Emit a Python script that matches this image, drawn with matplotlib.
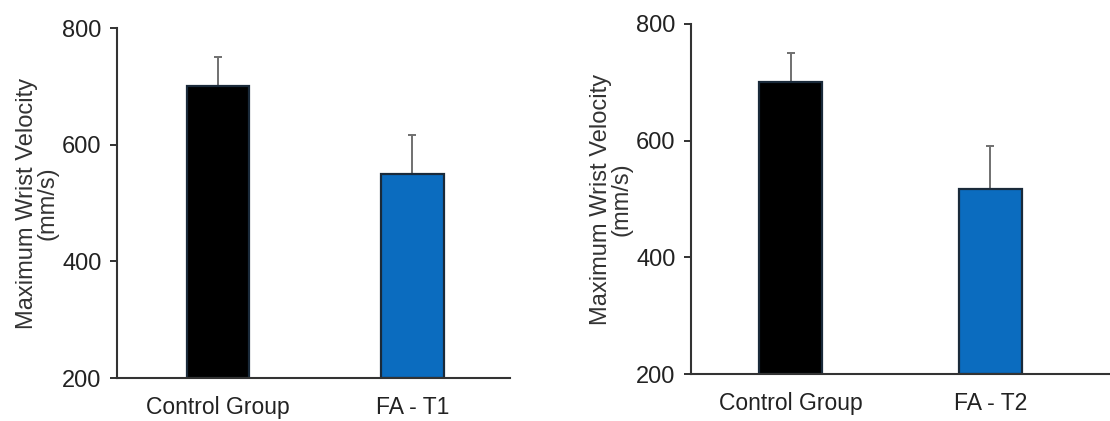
import matplotlib
matplotlib.use('Agg')
import matplotlib.pyplot as plt

plt.rcParams['font.family'] = ['Liberation Sans', 'DejaVu Sans']

groups_t1 = ['Control Group', 'FA - T1']
means_t1 = [700, 550]
err_t1 = [50, 67]

groups_t2 = ['Control Group', 'FA - T2']
means_t2 = [700, 517]
err_t2 = [50, 74]

colors = ['black', '#0b6cbf']

fig = plt.figure(figsize=(11.1, 4.21), dpi=100)
ax1 = fig.add_axes([0.1054, 0.102, 0.354, 0.8314])
ax2 = fig.add_axes([0.6225, 0.1116, 0.3775, 0.8314])

panels = [(ax1, groups_t1, means_t1, err_t1, (-0.519, 1.501), 0.32),
          (ax2, groups_t2, means_t2, err_t2, (-0.499, 1.60), 0.315)]

for ax, groups, means, errs, xlim, w in panels:
    x = range(len(groups))
    ax.bar(x, [m - 200 for m in means], bottom=200, width=w, color=colors,
           edgecolor='#1a2a3a', linewidth=1.6, zorder=2)
    ax.errorbar(x, means, yerr=[[0] * len(errs), errs], fmt='none',
                ecolor='#707070', elinewidth=1.4, capsize=3, capthick=1.4, zorder=1)
    ax.set_ylim(200, 800)
    ax.set_xlim(*xlim)
    ax.set_yticks([200, 400, 600, 800])
    ax.set_xticks(list(x))
    ax.set_xticklabels(groups)
    ax.tick_params(axis='x', length=0, pad=13, labelsize=16.5, colors='#222222')
    ax.tick_params(axis='y', length=5, width=1.3, pad=6, labelsize=17, colors='#222222')
    for s in ['top', 'right']:
        ax.spines[s].set_visible(False)
    for s in ['left', 'bottom']:
        ax.spines[s].set_color('#333333')
        ax.spines[s].set_linewidth(1.5)
    ax.set_ylabel('Maximum Wrist Velocity\n(mm/s)', fontsize=17, color='#333333',
                  labelpad=3, linespacing=0.9)

plt.savefig('out.png', dpi=100)
